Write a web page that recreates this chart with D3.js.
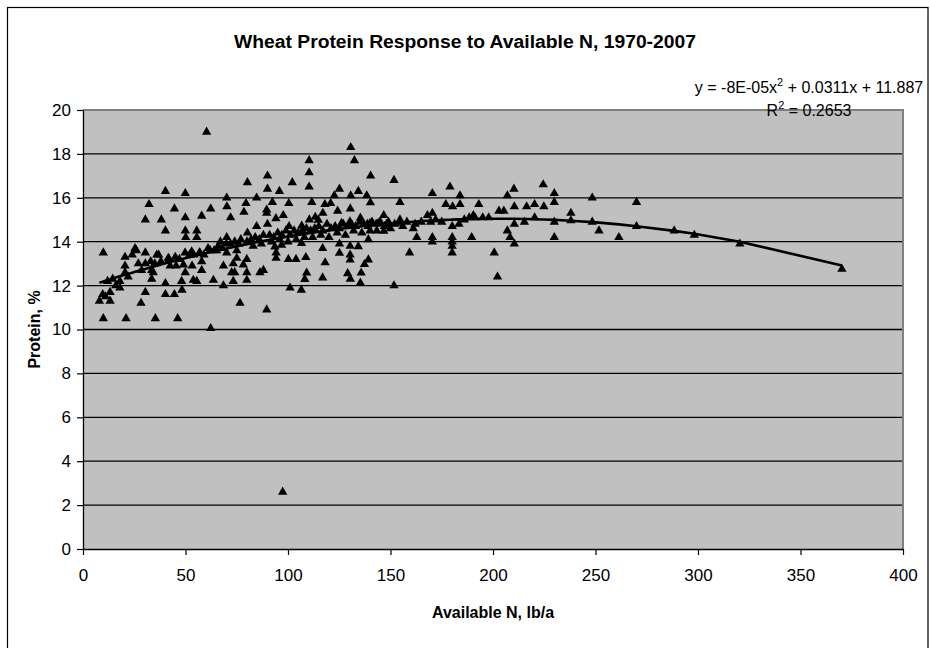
<!DOCTYPE html>
<html><head><meta charset="utf-8">
<script src="https://cdn.jsdelivr.net/npm/d3@7"></script>
<style>body{margin:0;background:#fff} text{font-family:"Liberation Sans",Arial,sans-serif}</style>
</head><body><svg id="c" width="930" height="648"></svg>
<script>
// Available N (lb/a) and grain protein (%)
const nAvail = [
9.6,8,13.2,13.2,11,9.9,9.9,14.5,18,18,20.5,20.5,20.5,21,25.4,28.6,28.3,30.4,30.4,30.4,30.4,32.2,16,24,26,12,22,27,
33.5,33.5,34.3,35.3,36.9,38.2,40.2,40.2,40.2,40.2,41.6,42.5,44.6,44.6,45.4,46.2,48.3,48.1,49.9,49.9,49.9,50.1,49.9,49.8,49,53,53.2,53.8,55.5,55.5,55.5,56.8,57.9,57.9,57.9,35,38,42,45,47,52,54,57,59,36,33,
60.3,62.3,62,62.3,63.6,65.2,68.5,68.5,70.1,70.2,72,70.1,70.1,72.5,73.3,75,76.6,78.5,79.5,80.2,80.2,78.2,79.9,79.9,79.9,84.7,84.7,88,89.6,89.6,90,90,90,89.6,73.3,74,86.3,61,64,66,68,70,72,74,76,77,80,82,84,86,88,67,75,83,87,
92.4,94.1,95.8,97.7,96.9,93.6,94.2,94.2,100.4,100.5,100.2,101,102.1,103.9,106.7,106.6,106.5,108.7,109.1,108.2,110.3,110.3,110.3,110.4,111.6,113.3,114.8,117,116.9,116.9,118,120.8,118.1,122.6,124.2,125.1,125.1,125.1,126.1,129.1,130.6,130.6,130.4,130.3,130.3,130.3,130.4,130.2,
91,93,95,97,99,101,103,105,107,109,111,113,115,117,119,121,123,125,127,129,92,96,100,104,108,112,116,120,124,128,
132.4,134.3,135.3,134.3,135.7,135.3,137.3,138.4,138.7,139.2,139.2,140.3,140.2,140,144,143.3,146.7,146.7,148.1,151.7,151.7,154.6,154.6,155,158,159.3,161.1,162.8,
131,133,135,137,139,141,143,145,147,149,132,136,140,150,152,156,
168,170.4,169.6,170.4,170.4,170.4,177,179,180.3,180.1,183.4,183.9,183.9,180.1,180.1,180.1,180.1,188.4,190.4,191.2,189.6,193.1,197.9,200.6,202.2,202.9,205.3,207,207,208.3,210.4,210.2,210.4,210.4,215.3,216.4,220.3,220.3,224.5,224.8,229.9,229.9,229.9,229.9,238,238,248.4,248.4,251.7,
162,165,175,172,186,195,
261.4,270,270,288.4,298.2,320.4,370.2,
97.4
];
const protein = [
11.6,11.3,11.7,11.3,11.5,13.5,10.5,12.3,12.2,11.9,13.3,12.9,12.6,10.5,13.7,12.7,11.2,13.5,13.0,11.7,15.0,15.7,12.0,13.4,13.6,12.2,12.4,13.0,
12.7,12.3,12.6,10.5,13.4,15.0,16.3,14.5,12.1,11.6,13.25,12.9,15.5,11.6,12.9,10.5,11.8,12.2,16.2,15.1,14.5,14.2,12.6,13.5,12.95,13.55,12.9,12.25,14.5,14.2,12.2,13.5,15.17,13.1,12.7,13.0,13.1,13.2,13.3,13.2,13.4,13.4,13.5,13.4,13.4,13.1,
19.0,15.5,13.6,10.05,12.25,13.6,12.9,12.0,16.0,15.6,15.1,14.2,13.5,12.6,12.2,13.25,11.2,15.35,15.75,16.7,14.4,12.95,12.6,12.25,13.2,16.0,14.7,12.7,15.45,15.3,17.0,16.4,14.8,10.9,13.0,12.6,12.6,13.7,13.6,13.8,13.7,13.9,13.9,14.0,13.9,14.1,14.0,14.1,14.2,14.1,14.3,14.0,13.6,13.8,13.9,
15.8,15.06,16.3,15.2,13.85,13.77,13.5,13.25,15.75,14.7,13.2,11.9,16.7,13.2,14.72,13.93,11.8,13.29,12.58,12.29,17.7,17.15,16.5,15.0,15.8,15.12,14.99,15.3,13.7,12.36,15.7,15.75,13.05,16.1,15.4,16.4,13.9,13.48,14.84,12.55,18.3,16.1,15.5,13.8,13.4,13.17,12.3,14.91,
14.3,14.2,14.4,14.3,14.5,14.3,14.5,14.4,14.5,14.6,14.5,14.6,14.7,14.5,14.8,14.6,14.7,14.6,14.8,14.7,14.0,14.1,14.0,14.1,14.2,14.2,14.3,14.2,14.4,14.3,
17.7,16.3,15.08,13.78,12.58,12.12,12.97,16.1,14.8,14.1,13.18,17.0,15.78,14.84,14.84,14.5,15.2,14.48,14.8,16.8,12.0,15.8,15.0,14.85,14.9,13.5,14.6,14.2,
14.8,14.7,14.9,14.8,14.7,14.9,14.8,14.9,14.7,14.9,14.5,14.4,14.5,14.6,14.8,14.7,
15.2,15.3,14.9,16.2,14.2,14.0,15.7,16.5,15.6,14.7,14.8,16.1,15.7,14.2,14.0,13.8,13.5,15.1,15.2,15.1,14.2,15.7,15.1,13.5,12.4,15.4,15.4,16.1,14.5,14.2,13.9,16.4,15.6,14.8,14.9,15.6,15.7,15.1,16.6,15.6,16.2,15.8,14.9,14.2,15.3,14.96,16.0,14.9,14.5,
14.8,14.9,14.9,15.0,15.0,15.1,
14.2,15.8,14.7,14.5,14.3,13.9,12.75,
2.6
];
const xTicks = [0,50,100,150,200,250,300,350,400];
const yTicks = [0,2,4,6,8,10,12,14,16,18,20];
// polynomial trendline: c0 + c1*x + c2*x^2
const trendCoef = [11.887, 0.0311, -0.0000765];
const titleText = "Wheat Protein Response to Available N, 1970-2007";
const xTitle = "Available N, lb/a";
const yTitle = "Protein, %";

const svg = d3.select("#c");
const M = {l:83, r:903, t:110, b:549};
const x = d3.scaleLinear().domain([0,400]).range([M.l, M.r]);
const y = d3.scaleLinear().domain([0,20]).range([M.b, M.t]);

svg.append("rect").attr("width",930).attr("height",648).attr("fill","#fff");
svg.append("rect").attr("x",7.5).attr("y",7.5).attr("width",920.5).attr("height",660)
  .attr("fill","none").attr("stroke","#000").attr("stroke-width",1.2);

svg.append("rect").attr("x",M.l).attr("y",M.t).attr("width",M.r-M.l).attr("height",M.b-M.t).attr("fill","#c0c0c0");

// gridlines
svg.append("g").selectAll("line").data(yTicks.filter(v=>v>0 && v<20)).join("line")
  .attr("x1",M.l).attr("x2",M.r).attr("y1",d=>y(d)).attr("y2",d=>y(d))
  .attr("stroke","#000").attr("stroke-width",1.3);
// plot border top/right
svg.append("path").attr("d",`M${M.l},${M.t}H${M.r}V${M.b}`).attr("fill","none")
  .attr("stroke","#808080").attr("stroke-width",2);

// axes
const ya = svg.append("g").attr("transform",`translate(${M.l},0)`)
  .call(d3.axisLeft(y).tickValues(yTicks).tickSize(6).tickPadding(6).tickSizeOuter(0));
const xa = svg.append("g").attr("transform",`translate(0,${M.b})`)
  .call(d3.axisBottom(x).tickValues(xTicks).tickSize(6).tickPadding(14).tickSizeOuter(0));
[ya,xa].forEach(g=>{
  g.select(".domain").attr("stroke","#000").attr("stroke-width",1.3);
  g.selectAll(".tick line").attr("stroke","#000").attr("stroke-width",1.2);
  g.selectAll(".tick text").attr("fill","#000").style("font-size","17px")
    .style("font-family",'"Liberation Sans",Arial,sans-serif');
});

// trendline
const pts = nAvail.map((d,i)=>[d,protein[i]]).sort((a,b)=>a[0]-b[0]);
const tx = Array.from(new Set(pts.map(p=>p[0])));
const tf = v => trendCoef[0] + trendCoef[1]*v + trendCoef[2]*v*v;
svg.append("path").datum(tx)
  .attr("d", d3.line().x(d=>x(d)).y(d=>y(tf(d))))
  .attr("fill","none").attr("stroke","#000").attr("stroke-width",2.6);

// markers
const tri = d3.symbol().type(d3.symbolTriangle).size(38);
svg.append("g").selectAll("path").data(pts).join("path")
  .attr("transform",d=>`translate(${x(d[0])},${y(d[1])})`)
  .attr("d",tri).attr("fill","#000");

// titles
svg.append("text").attr("x",465).attr("y",48).attr("text-anchor","middle")
  .attr("textLength",462).attr("lengthAdjust","spacingAndGlyphs")
  .style("font-size","18px").style("font-weight","bold").text(titleText);
svg.append("text").attr("x",(M.l+M.r)/2).attr("y",618).attr("text-anchor","middle")
  .style("font-size","16px").style("font-weight","bold").text(xTitle);
svg.append("text").attr("transform",`translate(40,${(M.t+M.b)/2}) rotate(-90)`).attr("text-anchor","middle")
  .style("font-size","16px").style("font-weight","bold").text(yTitle);

// trendline label
const eq = svg.append("text").attr("x",809).attr("y",93).attr("text-anchor","middle").style("font-size","16px");
eq.append("tspan").text("y = -8E-05x");
eq.append("tspan").attr("dy",-7).style("font-size","11px").text("2");
eq.append("tspan").attr("dy",7).text(" + 0.0311x + 11.887");
const r2 = svg.append("text").attr("x",809).attr("y",116).attr("text-anchor","middle").style("font-size","16px");
r2.append("tspan").text("R");
r2.append("tspan").attr("dy",-7).style("font-size","11px").text("2");
r2.append("tspan").attr("dy",7).text(" = 0.2653");
</script></body></html>
